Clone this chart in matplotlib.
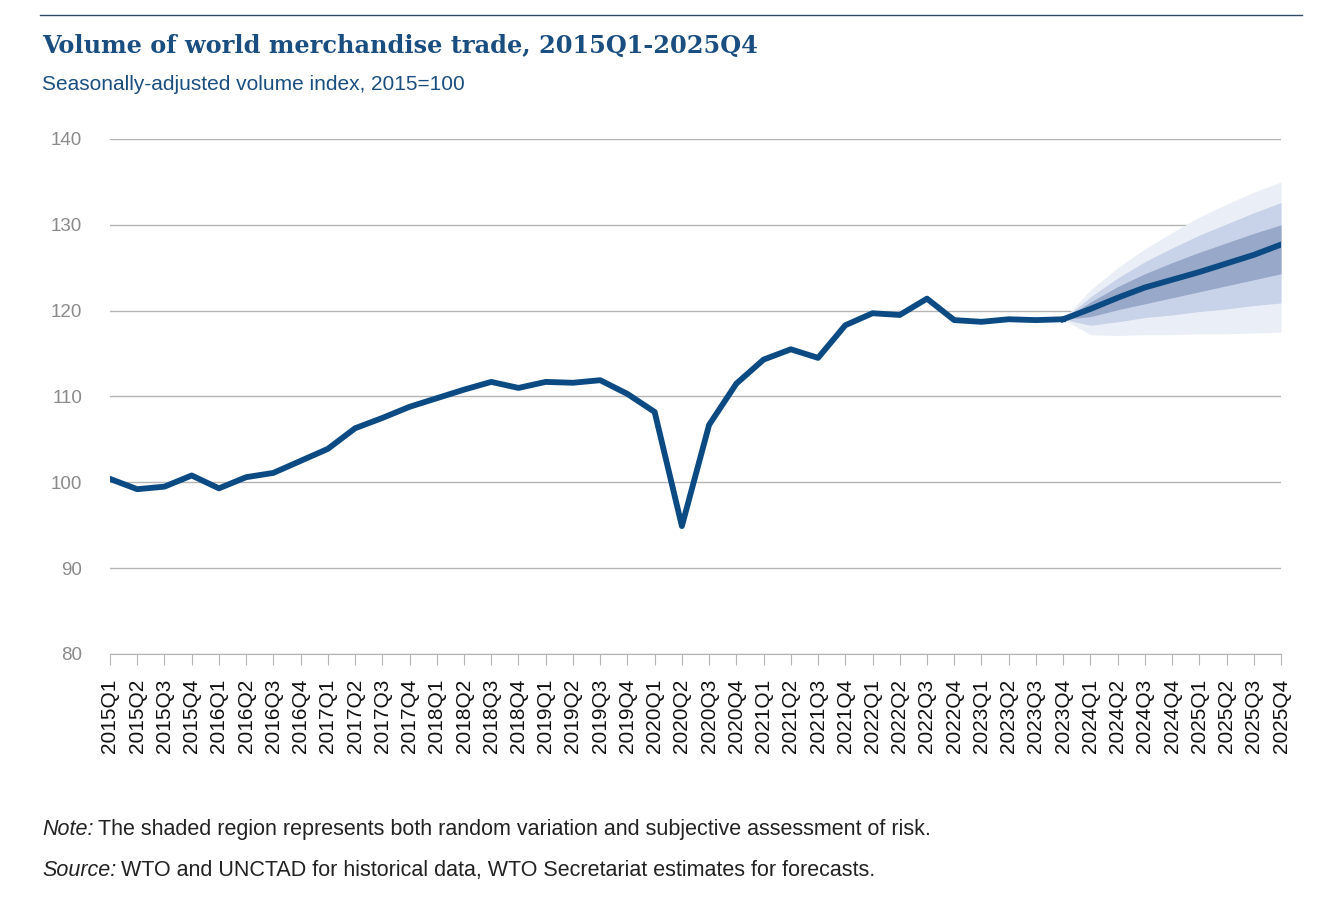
import numpy as np
import matplotlib.pyplot as plt
from matplotlib.lines import Line2D

# quarters 2015Q1 .. 2025Q4
quarters = [f'{y}Q{q}' for y in range(2015, 2026) for q in range(1, 5)]

# historical volume index (2015Q1 .. 2023Q4)
hist = [100.4, 99.2, 99.5, 100.8, 99.3, 100.6, 101.1, 102.5,
        103.9, 106.3, 107.5, 108.8, 109.8, 110.8, 111.7, 111.0,
        111.7, 111.6, 111.9, 110.3, 108.2, 94.9, 106.7, 111.5,
        114.3, 115.5, 114.5, 118.3, 119.7, 119.5, 121.4, 118.9,
        118.7, 119.0, 118.9, 119.0]

# forecast 2023Q4 .. 2025Q4 (starts at last actual)
fc = [119.0, 120.2, 121.5, 122.7, 123.6, 124.5, 125.5, 126.5, 127.7]
outer_lo = [119.0, 117.2, 117.1, 117.2, 117.2, 117.3, 117.3, 117.4, 117.5]
outer_hi = [119.0, 122.4, 125.0, 127.2, 129.1, 130.9, 132.4, 133.8, 135.0]
mid_lo = [119.0, 118.3, 118.7, 119.2, 119.5, 119.9, 120.2, 120.6, 120.9]
mid_hi = [119.0, 121.6, 123.8, 125.7, 127.3, 128.8, 130.1, 131.4, 132.6]
inner_lo = [119.0, 119.3, 120.1, 120.8, 121.5, 122.2, 122.9, 123.6, 124.3]
inner_hi = [119.0, 121.0, 122.8, 124.3, 125.6, 126.8, 127.9, 129.0, 130.0]

blue = '#0b4a82'
W, H = 1339, 897
fig = plt.figure(figsize=(W/100, H/100), dpi=100)
ax = fig.add_axes([110/W, 1-654/H, (1281-110)/W, (654-139)/H])

x_hist = np.arange(len(hist))
x_fc = np.arange(len(hist)-1, len(quarters))

ax.fill_between(x_fc, outer_lo, outer_hi, color='#eaeff7', lw=0, zorder=1)
ax.fill_between(x_fc, mid_lo, mid_hi, color='#c8d2e8', lw=0, zorder=2)
ax.fill_between(x_fc, inner_lo, inner_hi, color='#98a8c9', lw=0, zorder=3)
ax.plot(x_hist, hist, color=blue, lw=4.2, solid_joinstyle='round', zorder=5)
ax.plot(x_fc, fc, color=blue, lw=4.2, solid_joinstyle='round', zorder=5)

ax.set_xlim(0, len(quarters)-1)
ax.set_ylim(80, 140)
ax.set_yticks(range(80, 141, 10))
ax.yaxis.grid(True, color='#b4b4b4', lw=1)
ax.set_axisbelow(True)
for s in ['top', 'right', 'left']:
    ax.spines[s].set_visible(False)
ax.spines['bottom'].set_color('#b4b4b4')
ax.set_xticks(range(len(quarters)))
ax.set_xticklabels(quarters, rotation=90, fontsize=15, family='Liberation Sans', color='#111111')
ax.tick_params(axis='x', length=8, color='#b4b4b4', pad=10)
ax.tick_params(axis='y', length=0, labelsize=13.5, labelcolor='#8a8a8a', pad=20)
for lab in ax.get_yticklabels():
    lab.set_family('Liberation Sans')

fig.add_artist(Line2D([40/W, 1302/W], [1-15/H, 1-15/H], color='#2e4a66', lw=1))
fig.text(42/W, 1-46/H, 'Volume of world merchandise trade, 2015Q1-2025Q4',
         fontsize=17.3, fontweight='bold', family='DejaVu Serif', color='#1a4e80', va='center')
fig.text(42/W, 1-84/H, 'Seasonally-adjusted volume index, 2015=100',
         fontsize=15, family='Liberation Sans', color='#1a4e80', va='center')

# footnotes: italic label followed by plain text
fig.canvas.draw()
r = fig.canvas.get_renderer()
notes = [('Note:', 'The shaded region represents both random variation and subjective assessment of risk.', 829),
         ('Source:', 'WTO and UNCTAD for historical data, WTO Secretariat estimates for forecasts.', 870)]
for lab, txt, py in notes:
    t = fig.text(42/W, 1-py/H, lab, fontsize=15.5, family='Liberation Sans', style='italic',
                 va='center', color='#222222')
    ext = t.get_window_extent(r)
    fig.text((ext.x1 + 5)/W, 1-py/H, txt, fontsize=15.5, family='Liberation Sans',
             va='center', color='#222222')

fig.savefig('out.png', dpi=100, facecolor='white')
